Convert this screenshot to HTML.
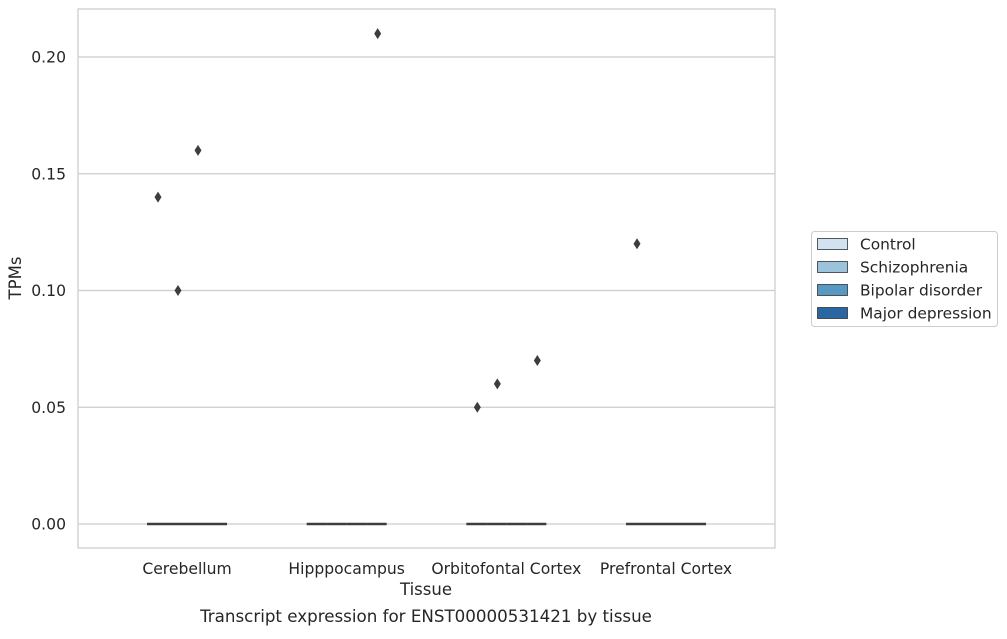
<!DOCTYPE html>
<html><head><meta charset="utf-8"><style>
body{margin:0;background:#fff;}
svg text{font-family:"DejaVu Sans","Liberation Sans",sans-serif;fill:#262626;}
</style></head><body>
<svg id="chart" width="1007" height="634" xmlns="http://www.w3.org/2000/svg">
<g id="grid"></g>
<g id="marks"></g>
<rect x="78" y="9" width="697" height="539" fill="none" stroke="#cccccc" stroke-width="1.25"/>
<g id="axes"></g>
<text x="426" y="595" font-size="16.5" text-anchor="middle">Tissue</text>
<text x="21" y="278" font-size="16.5" text-anchor="middle" transform="rotate(-90 21 278)">TPMs</text>
<text x="426" y="622" font-size="16.7" text-anchor="middle">Transcript expression for ENST00000531421 by tissue</text>
<g id="legend">
<rect x="811.5" y="231.5" width="186" height="95" rx="3" fill="#fff" stroke="#cccccc"/>
</g>
</svg>
<script>
const categories=["Cerebellum","Hipppocampus","Orbitofontal Cortex","Prefrontal Cortex"];
const hues=["Control","Schizophrenia","Bipolar disorder","Major depression"];
const colors=["#d2e2f0","#9bc4dc","#5899c4","#2a67a2"];
const yTicks=[0,0.05,0.1,0.15,0.2];
const yTickLabels=["0.00","0.05","0.10","0.15","0.20"];
// outliers: [categoryIndex, hueIndex, value]
const outlierCat=[0,0,0,1,2,2,2,3];
const outlierHue=[0,1,2,3,0,1,3,0];
const outlierVal=[0.14,0.10,0.16,0.21,0.05,0.06,0.07,0.12];
const medians=[[0,0,0,0],[0,0,0,0],[0,0,0,0],[0,0,0,0]];

const NS="http://www.w3.org/2000/svg";
const y=v=>524-v*(524-57)/0.2;
const xCat=i=>187+i*159.67;
const boxW=20;
const xHue=(c,h)=>xCat(c)+(h-1.5)*boxW;
function mk(tag,attrs,parent){const e=document.createElementNS(NS,tag);for(const k in attrs)e.setAttribute(k,attrs[k]);parent.appendChild(e);return e;}
const grid=document.getElementById('grid'),marks=document.getElementById('marks'),axes=document.getElementById('axes'),legend=document.getElementById('legend');
yTicks.forEach((t,i)=>{
 const l=mk('line',{x1:78,x2:775,y1:y(t),y2:y(t),stroke:'#cccccc','stroke-width':1.25},grid);
 
 
 const tx=mk('text',{x:66,y:y(t)+5.5,'font-size':15.6,'text-anchor':'end'},axes);
 tx.textContent=yTickLabels[i];
 
 
});
categories.forEach((c,ci)=>{
 const tx=mk('text',{x:xCat(ci),y:574,'font-size':15.6,'text-anchor':'middle'},axes);
 tx.textContent=c;
 
 
 hues.forEach((h,hi)=>{
  const m=medians[ci][hi];
  const l=mk('line',{x1:xHue(ci,hi)-boxW/2,x2:xHue(ci,hi)+boxW/2,y1:y(m),y2:y(m),stroke:'#3d3d3d','stroke-width':2.5},marks);
  
  
 });
});
outlierVal.forEach((v,i)=>{
 const cx=xHue(outlierCat[i],outlierHue[i])+1,cy=y(v);
 const p=mk('polygon',{points:`${cx},${cy-5.5} ${cx+3.5},${cy} ${cx},${cy+5.5} ${cx-3.5},${cy}`,fill:'#3d3d3d'},marks);
 
 
});
hues.forEach((h,i)=>{
 const yy=238+i*23;
 const r=mk('rect',{x:817.5,y:yy+0.5,width:30,height:11,fill:colors[i],stroke:'#333','stroke-width':0.8},legend);
 
 
 const t=mk('text',{x:860,y:yy+11.5,'font-size':15.4},legend);
 t.textContent=h;
 
 
});
</script>
</body></html>
